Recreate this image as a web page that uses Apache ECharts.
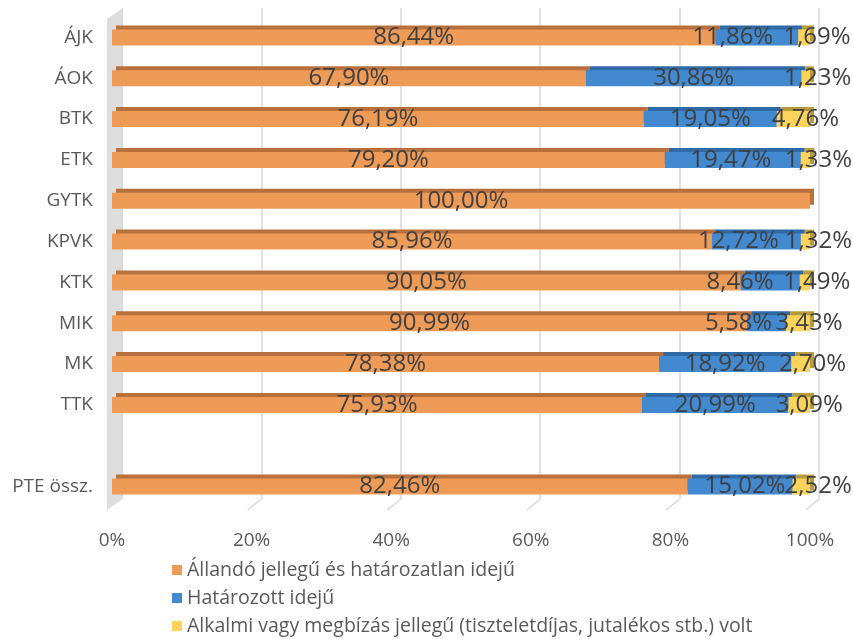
<!DOCTYPE html>
<html>
<head>
<meta charset="utf-8">
<script src="https://cdn.jsdelivr.net/npm/echarts@6/dist/echarts.min.js"></script>
<style>html,body{margin:0;padding:0;background:#fff}#c{width:853px;height:639px}</style>
</head>
<body>
<div id="c"></div>
<script>
var categories = ['ÁJK','ÁOK','BTK','ETK','GYTK','KPVK','KTK','MIK','MK','TTK','','PTE össz.'];
var seriesNames = ['Állandó jellegű és határozatlan idejű','Határozott idejű','Alkalmi vagy megbízás jellegű (tiszteletdíjas, jutalékos stb.) volt'];
var allando    = [86.44, 67.90, 76.19, 79.20, 100.00, 85.96, 90.05, 90.99, 78.38, 75.93, null, 82.46];
var hatarozott = [11.86, 30.86, 19.05, 19.47, 0,      12.72, 8.46,  5.58,  18.92, 20.99, null, 15.02];
var alkalmi    = [1.69,  1.23,  4.76,  1.33,  0,      1.32,  1.49,  3.43,  2.70,  3.09,  null, 2.52];
var xTicks = [0, 20, 40, 60, 80, 100];

// label nudges (style only, px)
var nudgeBlue   = [-24, 0, 0, -2, 0, -18, -30, -28, 0, 0, 0, 5];
var nudgeYellow = [13, 12, 12, 13, 0, 13, 12, 11, 12, 10, 0, 17];

var FONT = '"Open Sans", Lato, sans-serif';
var colors = ['#EF9B58', '#4289CF', '#FDD35C'];
var darks  = ['#B8703C', '#2E6AA6', '#B89A3A'];

function fmt(v){ return v.toFixed(2).replace('.', ',') + '%'; }

function mkSeries(idx, arr, nudge){
  return {
    name: seriesNames[idx], type: 'bar', stack: 'a', xAxisIndex: 0, yAxisIndex: 0,
    barWidth: 16,
    itemStyle: { color: colors[idx], shadowColor: darks[idx], shadowOffsetX: 4, shadowOffsetY: -4, shadowBlur: 0 },
    data: arr.map(function(v, i){
      if (v === null) return null;
      return {
        value: v,
        label: { show: v > 0, offset: [nudge ? nudge[i] : 0, 0] }
      };
    }),
    label: {
      show: true, position: 'inside', fontFamily: FONT, fontSize: 24, color: '#404040',
      formatter: function(p){ return p.value > 0 ? fmt(p.value) : ''; }
    },
    emphasis: { disabled: true }
  };
}

var chart = echarts.init(document.getElementById('c'), null, { renderer: 'canvas' });
var option = {
  animation: false,
  backgroundColor: '#fff',
  grid: [
    { left: 112, right: 43, top: 17, bottom: 132 },
    { left: 122, right: 34, top: 8, bottom: 140 }
  ],
  xAxis: [
    { gridIndex: 0, type: 'value', min: 0, max: 100, interval: 20,
      axisLine: { show: false }, axisTick: { show: false }, splitLine: { show: false },
      axisLabel: { formatter: '{value}%', fontFamily: FONT, fontSize: 19, color: '#595959', margin: 24 } },
    { gridIndex: 1, type: 'value', min: 0, max: 100, interval: 20,
      axisLine: { show: false }, axisTick: { show: false }, axisLabel: { show: false },
      splitLine: { show: true, lineStyle: { color: '#D9D9D9', width: 1.5 } } }
  ],
  yAxis: [
    { gridIndex: 0, type: 'category', data: categories, inverse: true,
      axisLine: { show: false }, axisTick: { show: false },
      axisLabel: { fontFamily: FONT, fontSize: 19, color: '#595959', margin: 19 } },
    { gridIndex: 1, type: 'value', show: false, splitLine: { show: false } }
  ],
  legend: {
    orient: 'vertical', left: 172, top: 560, itemGap: 8, padding: 0,
    icon: 'rect', itemWidth: 10, itemHeight: 10,
    textStyle: { fontFamily: FONT, fontSize: 19.5, color: '#595959' },
    data: seriesNames
  },
  series: [
    mkSeries(0, allando, null),
    mkSeries(1, hatarozott, nudgeBlue),
    mkSeries(2, alkalmi, nudgeYellow)
  ]
};
chart.setOption(option);

// 3D decorations: back-left wall and floor diagonals, positioned through axis scales
var g = [];
var backX0 = chart.convertToPixel({ xAxisIndex: 1 }, 0);
var frontX0 = chart.convertToPixel({ xAxisIndex: 0 }, 0) - 5;
var backTop = 8, backBottom = 499, frontBottom = 510, frontTop = 19;
g.push({ type: 'polygon', z: -1, shape: { points: [[frontX0, frontTop], [backX0 + 1, backTop], [backX0 + 1, backBottom], [frontX0, frontBottom]] },
  style: { fill: '#DEDEDE' } });
xTicks.forEach(function(t){
  if (t === 0) return;
  var bx = chart.convertToPixel({ xAxisIndex: 1 }, t);
  var fx = chart.convertToPixel({ xAxisIndex: 0 }, t) - 4;
  g.push({ type: 'line', z: -1, shape: { x1: bx, y1: backBottom, x2: fx, y2: frontBottom }, style: { stroke: '#D9D9D9', lineWidth: 1.5 } });
});
chart.setOption({ graphic: g });
</script>
</body>
</html>
